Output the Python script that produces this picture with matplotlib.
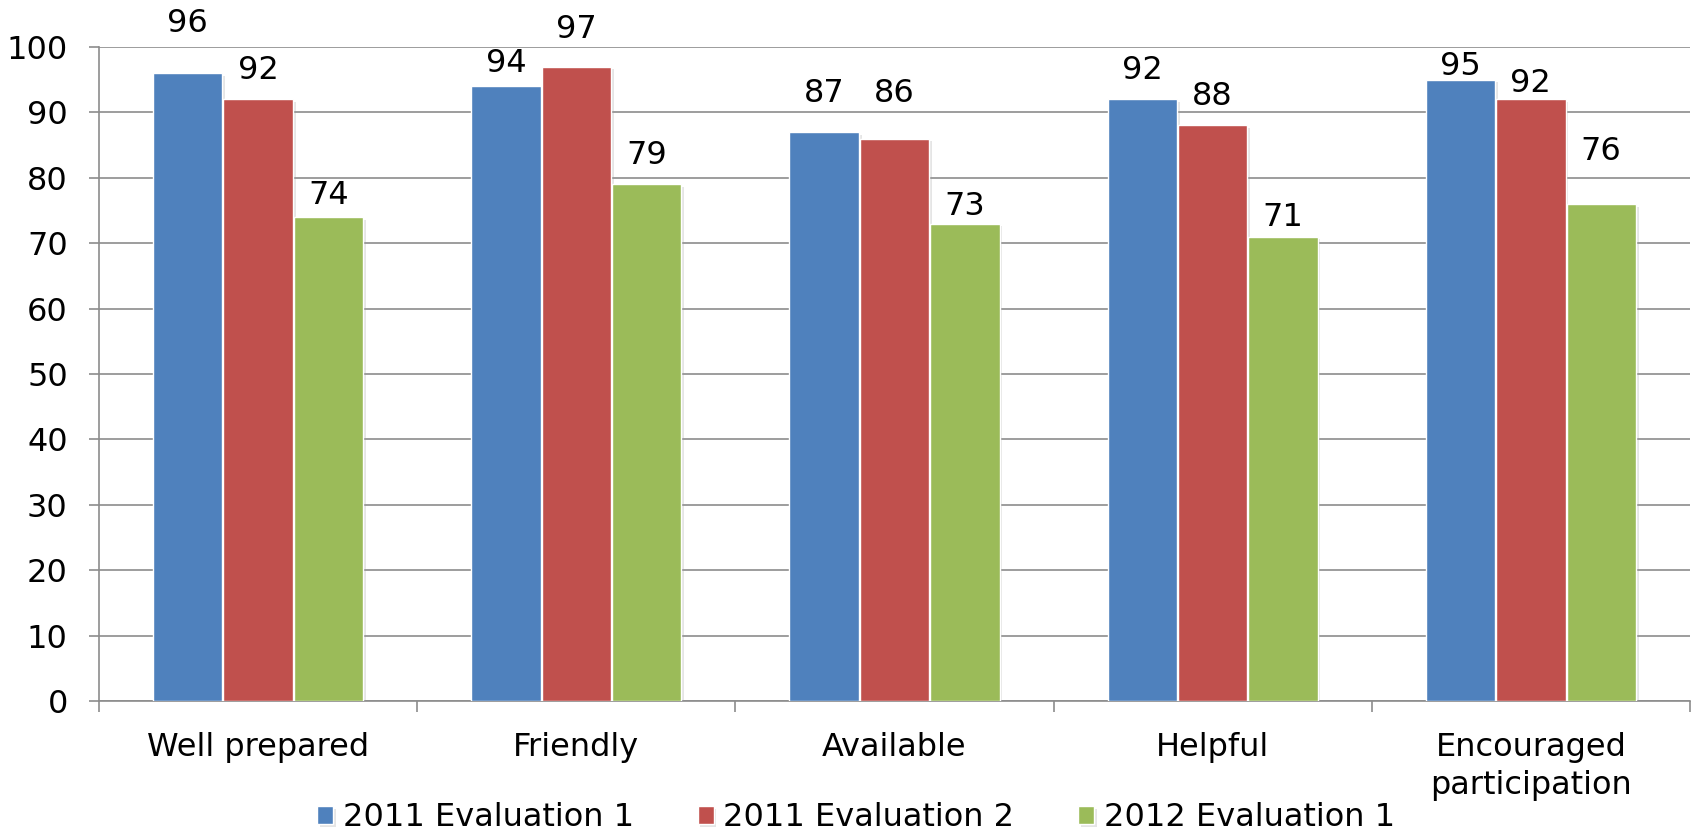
import matplotlib
matplotlib.use("Agg")
import matplotlib.pyplot as plt
import matplotlib.patheffects as pe
import numpy as np

categories = ["Well prepared", "Friendly", "Available", "Helpful", "Encouraged\nparticipation"]
series_names = ["2011 Evaluation 1", "2011 Evaluation 2", "2012 Evaluation 1"]
eval_2011_1 = [96, 94, 87, 92, 95]
eval_2011_2 = [92, 97, 86, 88, 92]
eval_2012_1 = [74, 79, 73, 71, 76]
y_ticks = [0, 10, 20, 30, 40, 50, 60, 70, 80, 90, 100]

colors = ["#4F81BD", "#C0504D", "#9BBB59"]
# vertical offsets (pixels) of the data labels above bar tops, as placed in the original
label_offsets = [
    [50, 23, 39, 29, 13],
    [29, 37, 45, 29, 16],
    [22, 29, 17, 19, 52],
]

plt.rcParams['font.family'] = ['DejaVu Sans']
FS = 23
grid_c = "#8C8C8C"

fig = plt.figure(figsize=(16.94, 8.36), dpi=100)
ax = fig.add_axes([99 / 1694, 135 / 836, 1591 / 1694, 654 / 836])

x = np.arange(len(categories))
bw = 0.218
series = [eval_2011_1, eval_2011_2, eval_2012_1]
shadow = [pe.SimplePatchShadow(offset=(2, -2), shadow_rgbFace="#9a9a9a", alpha=0.25), pe.Normal()]
for j, (vals, col, name) in enumerate(zip(series, colors, series_names)):
    xs = x + (j - 1) * 0.221
    bars = ax.bar(xs, vals, width=bw, color=col, edgecolor="white", linewidth=1.0,
                  label=name, zorder=3)
    for b in bars:
        b.set_path_effects(shadow)
    for i, (xx, v) in enumerate(zip(xs, vals)):
        ax.annotate(str(v), (xx, v), xytext=(0, label_offsets[j][i]), textcoords="offset pixels",
                    ha="center", va="center", fontsize=FS, color="black", zorder=5,
                    annotation_clip=False)

ax.set_xlim(-0.5, len(categories) - 0.5)
ax.set_ylim(0, 100)
ax.set_yticks(y_ticks)
ax.set_yticklabels([str(t) for t in y_ticks])
ax.set_xticks(x)
ax.set_xticklabels(categories)
ax.set_xticks(np.arange(-0.5, len(categories), 1.0), minor=True)

ax.yaxis.grid(True, color=grid_c, linewidth=1.2, zorder=0)
ax.set_axisbelow(True)
for s in ["top", "right"]:
    ax.spines[s].set_visible(False)
for s in ["left", "bottom"]:
    ax.spines[s].set_color(grid_c)
    ax.spines[s].set_linewidth(1.2)

ax.tick_params(axis="y", which="major", length=7.5, width=1.2, color=grid_c, labelsize=FS, pad=15)
ax.tick_params(axis="x", which="major", length=0, labelsize=FS, pad=22)
ax.tick_params(axis="x", which="minor", length=8, width=1.2, color=grid_c)
for lbl in ax.get_xticklabels():
    lbl.set_verticalalignment("top")
    lbl.set_linespacing(1.3)

leg = fig.legend(loc="center", bbox_to_anchor=(856 / 1694, 1 - 818 / 836), ncol=3, frameon=False,
                 fontsize=FS, handlelength=0.5, handleheight=0.5, handletextpad=0.3,
                 columnspacing=2.0, borderaxespad=0)

fig.savefig("out.png", dpi=100)
